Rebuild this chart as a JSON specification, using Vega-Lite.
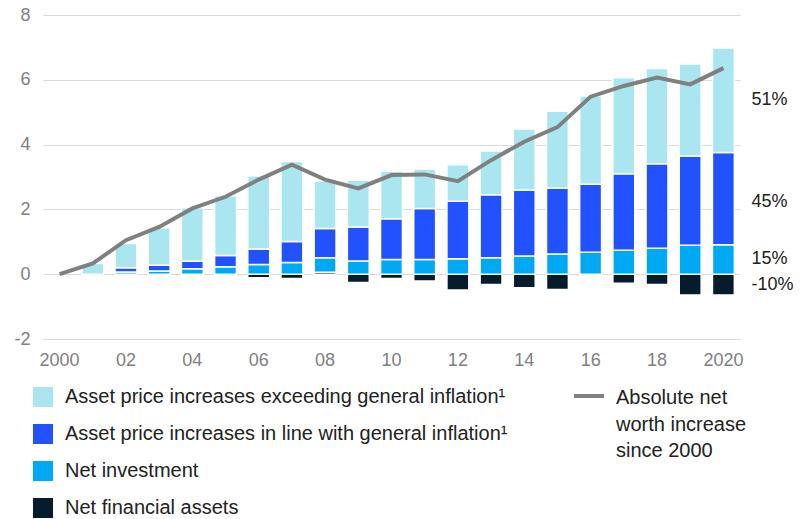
{
  "$schema": "https://vega.github.io/schema/vega-lite/v6.json",
  "width": 697,
  "height": 324,
  "autosize": "none",
  "padding": {"left": 43, "top": 15, "right": 69, "bottom": 180},
  "background": "white",
  "config": {
    "view": {"stroke": null},
    "font": "Liberation Sans",
    "axis": {"labelFont": "Liberation Sans", "labelFontSize": 18, "labelColor": "#808080", "domain": false, "ticks": false, "title": null},
    "legend": {"labelFont": "Liberation Sans", "labelFontSize": 20, "labelColor": "#222222", "title": null, "labelLimit": 600, "padding": 0}
  },
  "datasets": {
    "bars": [
      {"year": 2001, "component": "Asset price increases exceeding general inflation¹", "order": 3, "value": 0.33},
      {"year": 2002, "component": "Net investment", "order": 1, "value": 0.07},
      {"year": 2002, "component": "Asset price increases in line with general inflation¹", "order": 2, "value": 0.13},
      {"year": 2002, "component": "Asset price increases exceeding general inflation¹", "order": 3, "value": 0.75},
      {"year": 2003, "component": "Net investment", "order": 1, "value": 0.10},
      {"year": 2003, "component": "Asset price increases in line with general inflation¹", "order": 2, "value": 0.18},
      {"year": 2003, "component": "Asset price increases exceeding general inflation¹", "order": 3, "value": 1.15},
      {"year": 2004, "component": "Net investment", "order": 1, "value": 0.17},
      {"year": 2004, "component": "Asset price increases in line with general inflation¹", "order": 2, "value": 0.23},
      {"year": 2004, "component": "Asset price increases exceeding general inflation¹", "order": 3, "value": 1.65},
      {"year": 2005, "component": "Net financial assets", "order": 0, "value": -0.03},
      {"year": 2005, "component": "Net investment", "order": 1, "value": 0.23},
      {"year": 2005, "component": "Asset price increases in line with general inflation¹", "order": 2, "value": 0.35},
      {"year": 2005, "component": "Asset price increases exceeding general inflation¹", "order": 3, "value": 1.84},
      {"year": 2006, "component": "Net financial assets", "order": 0, "value": -0.11},
      {"year": 2006, "component": "Net investment", "order": 1, "value": 0.30},
      {"year": 2006, "component": "Asset price increases in line with general inflation¹", "order": 2, "value": 0.48},
      {"year": 2006, "component": "Asset price increases exceeding general inflation¹", "order": 3, "value": 2.26},
      {"year": 2007, "component": "Net financial assets", "order": 0, "value": -0.13},
      {"year": 2007, "component": "Net investment", "order": 1, "value": 0.36},
      {"year": 2007, "component": "Asset price increases in line with general inflation¹", "order": 2, "value": 0.65},
      {"year": 2007, "component": "Asset price increases exceeding general inflation¹", "order": 3, "value": 2.47},
      {"year": 2008, "component": "Net financial assets", "order": 0, "value": 0.06},
      {"year": 2008, "component": "Net investment", "order": 1, "value": 0.45},
      {"year": 2008, "component": "Asset price increases in line with general inflation¹", "order": 2, "value": 0.90},
      {"year": 2008, "component": "Asset price increases exceeding general inflation¹", "order": 3, "value": 1.47},
      {"year": 2009, "component": "Net financial assets", "order": 0, "value": -0.26},
      {"year": 2009, "component": "Net investment", "order": 1, "value": 0.41},
      {"year": 2009, "component": "Asset price increases in line with general inflation¹", "order": 2, "value": 1.05},
      {"year": 2009, "component": "Asset price increases exceeding general inflation¹", "order": 3, "value": 1.44},
      {"year": 2010, "component": "Net financial assets", "order": 0, "value": -0.13},
      {"year": 2010, "component": "Net investment", "order": 1, "value": 0.45},
      {"year": 2010, "component": "Asset price increases in line with general inflation¹", "order": 2, "value": 1.26},
      {"year": 2010, "component": "Asset price increases exceeding general inflation¹", "order": 3, "value": 1.47},
      {"year": 2011, "component": "Net financial assets", "order": 0, "value": -0.21},
      {"year": 2011, "component": "Net investment", "order": 1, "value": 0.45},
      {"year": 2011, "component": "Asset price increases in line with general inflation¹", "order": 2, "value": 1.58},
      {"year": 2011, "component": "Asset price increases exceeding general inflation¹", "order": 3, "value": 1.22},
      {"year": 2012, "component": "Net financial assets", "order": 0, "value": -0.49},
      {"year": 2012, "component": "Net investment", "order": 1, "value": 0.48},
      {"year": 2012, "component": "Asset price increases in line with general inflation¹", "order": 2, "value": 1.77},
      {"year": 2012, "component": "Asset price increases exceeding general inflation¹", "order": 3, "value": 1.13},
      {"year": 2013, "component": "Net financial assets", "order": 0, "value": -0.32},
      {"year": 2013, "component": "Net investment", "order": 1, "value": 0.51},
      {"year": 2013, "component": "Asset price increases in line with general inflation¹", "order": 2, "value": 1.94},
      {"year": 2013, "component": "Asset price increases exceeding general inflation¹", "order": 3, "value": 1.35},
      {"year": 2014, "component": "Net financial assets", "order": 0, "value": -0.42},
      {"year": 2014, "component": "Net investment", "order": 1, "value": 0.56},
      {"year": 2014, "component": "Asset price increases in line with general inflation¹", "order": 2, "value": 2.04},
      {"year": 2014, "component": "Asset price increases exceeding general inflation¹", "order": 3, "value": 1.88},
      {"year": 2015, "component": "Net financial assets", "order": 0, "value": -0.47},
      {"year": 2015, "component": "Net investment", "order": 1, "value": 0.62},
      {"year": 2015, "component": "Asset price increases in line with general inflation¹", "order": 2, "value": 2.04},
      {"year": 2015, "component": "Asset price increases exceeding general inflation¹", "order": 3, "value": 2.37},
      {"year": 2016, "component": "Net investment", "order": 1, "value": 0.68},
      {"year": 2016, "component": "Asset price increases in line with general inflation¹", "order": 2, "value": 2.10},
      {"year": 2016, "component": "Asset price increases exceeding general inflation¹", "order": 3, "value": 2.72},
      {"year": 2017, "component": "Net financial assets", "order": 0, "value": -0.28},
      {"year": 2017, "component": "Net investment", "order": 1, "value": 0.74},
      {"year": 2017, "component": "Asset price increases in line with general inflation¹", "order": 2, "value": 2.36},
      {"year": 2017, "component": "Asset price increases exceeding general inflation¹", "order": 3, "value": 2.96},
      {"year": 2018, "component": "Net financial assets", "order": 0, "value": -0.32},
      {"year": 2018, "component": "Net investment", "order": 1, "value": 0.80},
      {"year": 2018, "component": "Asset price increases in line with general inflation¹", "order": 2, "value": 2.61},
      {"year": 2018, "component": "Asset price increases exceeding general inflation¹", "order": 3, "value": 2.94},
      {"year": 2019, "component": "Net financial assets", "order": 0, "value": -0.64},
      {"year": 2019, "component": "Net investment", "order": 1, "value": 0.89},
      {"year": 2019, "component": "Asset price increases in line with general inflation¹", "order": 2, "value": 2.76},
      {"year": 2019, "component": "Asset price increases exceeding general inflation¹", "order": 3, "value": 2.84},
      {"year": 2020, "component": "Net financial assets", "order": 0, "value": -0.64},
      {"year": 2020, "component": "Net investment", "order": 1, "value": 0.91},
      {"year": 2020, "component": "Asset price increases in line with general inflation¹", "order": 2, "value": 2.85},
      {"year": 2020, "component": "Asset price increases exceeding general inflation¹", "order": 3, "value": 3.22}
    ],
    "line": [
      {"year": 2000, "series": "Absolute net worth increase since 2000", "net": 0},
      {"year": 2001, "series": "Absolute net worth increase since 2000", "net": 0.33},
      {"year": 2002, "series": "Absolute net worth increase since 2000", "net": 1.05},
      {"year": 2003, "series": "Absolute net worth increase since 2000", "net": 1.46},
      {"year": 2004, "series": "Absolute net worth increase since 2000", "net": 2.03},
      {"year": 2005, "series": "Absolute net worth increase since 2000", "net": 2.39},
      {"year": 2006, "series": "Absolute net worth increase since 2000", "net": 2.92},
      {"year": 2007, "series": "Absolute net worth increase since 2000", "net": 3.38},
      {"year": 2008, "series": "Absolute net worth increase since 2000", "net": 2.92},
      {"year": 2009, "series": "Absolute net worth increase since 2000", "net": 2.65},
      {"year": 2010, "series": "Absolute net worth increase since 2000", "net": 3.06},
      {"year": 2011, "series": "Absolute net worth increase since 2000", "net": 3.08},
      {"year": 2012, "series": "Absolute net worth increase since 2000", "net": 2.87},
      {"year": 2013, "series": "Absolute net worth increase since 2000", "net": 3.52},
      {"year": 2014, "series": "Absolute net worth increase since 2000", "net": 4.09},
      {"year": 2015, "series": "Absolute net worth increase since 2000", "net": 4.54},
      {"year": 2016, "series": "Absolute net worth increase since 2000", "net": 5.48},
      {"year": 2017, "series": "Absolute net worth increase since 2000", "net": 5.81},
      {"year": 2018, "series": "Absolute net worth increase since 2000", "net": 6.07},
      {"year": 2019, "series": "Absolute net worth increase since 2000", "net": 5.86},
      {"year": 2020, "series": "Absolute net worth increase since 2000", "net": 6.36}
    ],
    "notes": [
      {"year": 2020, "pos": 5.39, "label": "51%"},
      {"year": 2020, "pos": 2.22, "label": "45%"},
      {"year": 2020, "pos": 0.46, "label": "15%"},
      {"year": 2020, "pos": -0.34, "label": "-10%"}
    ]
  },
  "encoding": {
    "x": {
      "field": "year",
      "type": "ordinal",
      "scale": {"domain": [2000, 2001, 2002, 2003, 2004, 2005, 2006, 2007, 2008, 2009, 2010, 2011, 2012, 2013, 2014, 2015, 2016, 2017, 2018, 2019, 2020], "paddingInner": 0.34, "paddingOuter": 0.17},
      "axis": {"labelAngle": 0, "labelPadding": 12, "grid": false, "labelExpr": "datum.value % 2 == 0 ? ((datum.value == 2000 || datum.value == 2020) ? datum.label : substring(datum.label, 2, 4)) : ''"}
    }
  },
  "layer": [
    {
      "data": {"name": "bars"},
      "mark": {"type": "bar", "stroke": "white", "strokeWidth": 1.5},
      "encoding": {
        "y": {
          "field": "value",
          "type": "quantitative",
          "stack": "zero",
          "scale": {"domain": [-2, 8], "nice": false, "zero": false},
          "axis": {"values": [-2, 0, 2, 4, 6, 8], "labelPadding": 13, "grid": true, "gridColor": "#dadada", "gridWidth": 1.2, "labelExpr": "'' + datum.value"}
        },
        "color": {
          "field": "component",
          "type": "nominal",
          "scale": {
            "domain": ["Asset price increases exceeding general inflation¹", "Asset price increases in line with general inflation¹", "Net investment", "Net financial assets"],
            "range": ["#aae6f0", "#2251ff", "#00a9f4", "#051c2c"]
          },
          "legend": {"orient": "none", "legendX": -10, "legendY": 372, "symbolType": "square", "symbolSize": 400, "symbolStrokeWidth": 0, "labelOffset": 12, "rowPadding": 17, "direction": "vertical"}
        },
        "order": {"field": "order", "type": "quantitative"}
      }
    },
    {
      "data": {"name": "line"},
      "mark": {"type": "line", "strokeWidth": 4},
      "encoding": {
        "y": {"field": "net", "type": "quantitative"},
        "stroke": {
          "field": "series",
          "type": "nominal",
          "scale": {"range": ["#808080"]},
          "legend": {
            "orient": "none", "legendX": 529, "legendY": 364, "symbolType": "stroke", "symbolSize": 900, "symbolStrokeWidth": 4,
            "labelOffset": 10,
            "labelExpr": "['Absolute net', 'worth increase', 'since 2000']",
            "labelBaseline": "top",
            "encode": {"labels": {"update": {"lineHeight": {"value": 26.7}, "dy": {"value": -8}}}}
          }
        }
      }
    },
    {
      "mark": {"type": "rule", "color": "#808080", "strokeWidth": 2},
      "encoding": {"y": {"datum": 0}, "x": {"value": 0}, "x2": {"value": 697}}
    },
    {
      "data": {"name": "notes"},
      "mark": {"type": "text", "align": "left", "baseline": "middle", "dx": 28, "fontSize": 18, "color": "#222222", "font": "Liberation Sans"},
      "encoding": {
        "y": {"field": "pos", "type": "quantitative"},
        "text": {"field": "label"}
      }
    }
  ]
}
